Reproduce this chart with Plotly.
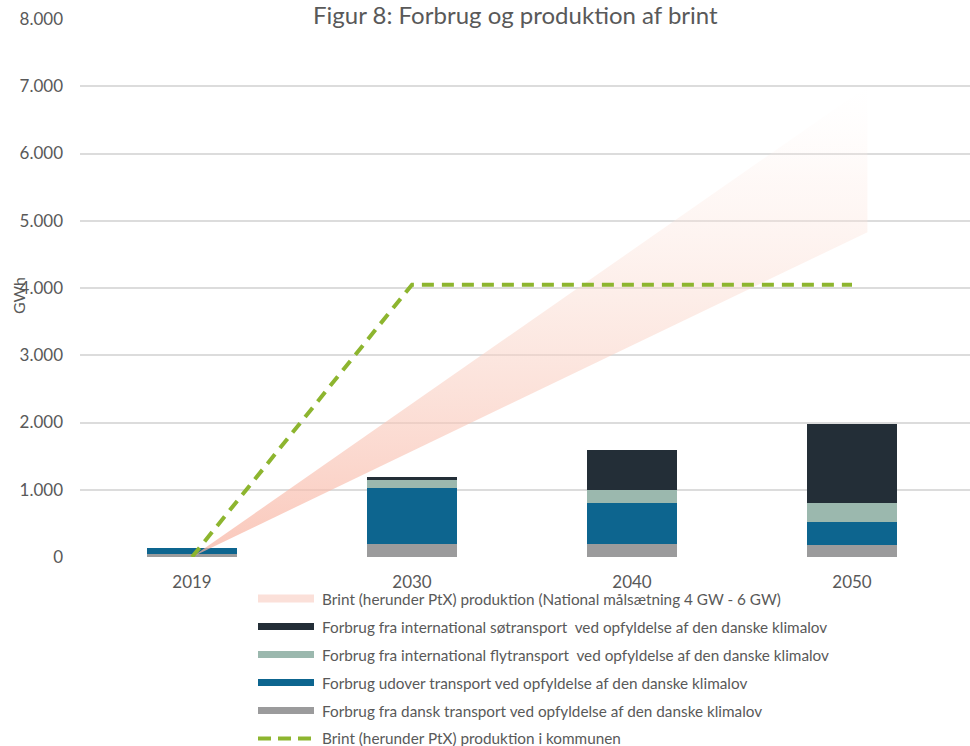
import plotly.graph_objects as go

# --- data -------------------------------------------------------------
years = ["2019", "2030", "2040", "2050"]
x_pos = [0, 1, 2, 3]

dansk_transport = [40, 200, 200, 185]       # Forbrug fra dansk transport
udover_transport = [100, 830, 600, 340]     # Forbrug udover transport
flytransport = [0, 110, 195, 280]           # international flytransport
soetransport = [0, 45, 590, 1175]           # international søtransport

kommune_ptx = [0, 4050, 4050, 4050]         # Brint produktion i kommunen

# national target wedge (4 GW - 6 GW), from 2019 out to just past 2050
band_x = [0, 3.07, 3.07]
band_y = [0, 4830, 7000]

y_ticks = [0, 1000, 2000, 3000, 4000, 5000, 6000, 7000, 8000]

# --- styling ----------------------------------------------------------
FONT = "Lato"
TXT = "#595959"
C_GRAY = "#9b9b9c"
C_BLUE = "#0d658f"
C_SAGE = "#9bb8ae"
C_DARK = "#232e37"
C_GREEN = "#8db52f"

W, H = 970, 746
M_L, M_R, M_T, M_B = 80, 0, 19, 189
PW = W - M_L - M_R
PH = H - M_T - M_B
UNIT = 220.0  # pixels per category
x0 = -0.5 - 2 / UNIT
x_range = [x0, x0 + PW / UNIT]


def px_x(p):
    return (p - M_L) / PW


def px_y(p):
    return (H - M_B - p) / PH


fig = go.Figure()

bar_series = [
    (dansk_transport, C_GRAY, "Forbrug fra dansk transport ved opfyldelse af den danske klimalov"),
    (udover_transport, C_BLUE, "Forbrug udover transport ved opfyldelse af den danske klimalov"),
    (flytransport, C_SAGE, "Forbrug fra international flytransport  ved opfyldelse af den danske klimalov"),
    (soetransport, C_DARK, "Forbrug fra international søtransport  ved opfyldelse af den danske klimalov"),
]
for vals, col, name in bar_series:
    fig.add_trace(go.Bar(
        x=x_pos, y=vals, name=name, width=0.41,
        marker=dict(color=col, line=dict(width=0)),
        showlegend=False,
    ))

fig.add_trace(go.Scatter(
    x=band_x + [band_x[0]], y=band_y + [band_y[0]],
    mode="none", fill="toself",
    fillgradient=dict(
        type="vertical",
        colorscale=[[0, "rgba(248,178,160,0.72)"],
                    [0.5, "rgba(250,214,202,0.5)"],
                    [0.8, "rgba(253,232,225,0.28)"],
                    [1, "rgba(255,245,242,0.0)"]],
    ),
    name="Brint (herunder PtX) produktion (National målsætning 4 GW - 6 GW)",
    showlegend=False,
))

fig.add_trace(go.Scatter(
    x=x_pos, y=kommune_ptx, mode="lines",
    line=dict(color=C_GREEN, width=4, dash="12px,8px"),
    name="Brint (herunder PtX) produktion i kommunen",
    showlegend=False,
))

# --- legend drawn below the plot -----------------------------------
legend_rows = [
    ("Brint (herunder PtX) produktion (National målsætning 4 GW - 6 GW)", "band", "rgba(250,214,204,0.75)"),
    ("Forbrug fra international søtransport  ved opfyldelse af den danske klimalov", "bar", C_DARK),
    ("Forbrug fra international flytransport  ved opfyldelse af den danske klimalov", "bar", C_SAGE),
    ("Forbrug udover transport ved opfyldelse af den danske klimalov", "bar", C_BLUE),
    ("Forbrug fra dansk transport ved opfyldelse af den danske klimalov", "bar", C_GRAY),
    ("Brint (herunder PtX) produktion i kommunen", "dash", C_GREEN),
]
shapes = []
annotations = []
row_top = 598.5
row_step = 28.0
sw_l, sw_r, txt_l = 258, 314, 320
for i, (label, kind, col) in enumerate(legend_rows):
    cy = row_top + i * row_step
    if kind == "dash":
        shapes.append(dict(
            type="line", xref="paper", yref="paper",
            x0=px_x(sw_l), x1=px_x(sw_r), y0=px_y(cy), y1=px_y(cy),
            line=dict(color=col, width=4, dash="13px,7px"),
        ))
    else:
        hh = 4 if kind == "band" else 3.5
        shapes.append(dict(
            type="rect", xref="paper", yref="paper",
            x0=px_x(sw_l), x1=px_x(sw_r), y0=px_y(cy - hh), y1=px_y(cy + hh),
            fillcolor=col, line=dict(width=0),
        ))
    annotations.append(dict(
        text=label, xref="paper", yref="paper",
        x=px_x(txt_l), y=px_y(cy), xanchor="left", yanchor="middle",
        showarrow=False, font=dict(family=FONT, size=15.3, color=TXT),
    ))

# title and y-axis label
annotations.append(dict(
    text="Figur 8: Forbrug og produktion af brint",
    xref="paper", yref="paper", x=px_x(515), y=px_y(14),
    xanchor="center", yanchor="middle", showarrow=False,
    font=dict(family=FONT, size=24, color=TXT),
))
annotations.append(dict(
    text="GWh", xref="paper", yref="paper", x=px_x(18), y=px_y(296),
    xanchor="center", yanchor="middle", textangle=-90, showarrow=False,
    font=dict(family=FONT, size=16, color=TXT),
))

fig.update_layout(
    width=W, height=H,
    margin=dict(l=M_L, r=M_R, t=M_T, b=M_B),
    barmode="stack",
    paper_bgcolor="white", plot_bgcolor="white",
    separators=",.",
    font=dict(family=FONT, color=TXT),
    shapes=shapes, annotations=annotations,
    showlegend=False,
)
fig.update_xaxes(
    range=x_range, tickvals=x_pos, ticktext=years,
    showgrid=False, zeroline=False, showline=False, ticks="",
    tickfont=dict(family=FONT, size=17, color=TXT),
    ticklabelstandoff=13,
)
fig.update_yaxes(
    range=[0, 8000], tickvals=y_ticks, tickformat=",d",
    showgrid=True, gridcolor="#dcdcdc", gridwidth=1.5,
    zeroline=False, showline=False, ticks="",
    tickfont=dict(family=FONT, size=17, color=TXT),
    ticklabelstandoff=16,
)

fig.write_html("out.html")
